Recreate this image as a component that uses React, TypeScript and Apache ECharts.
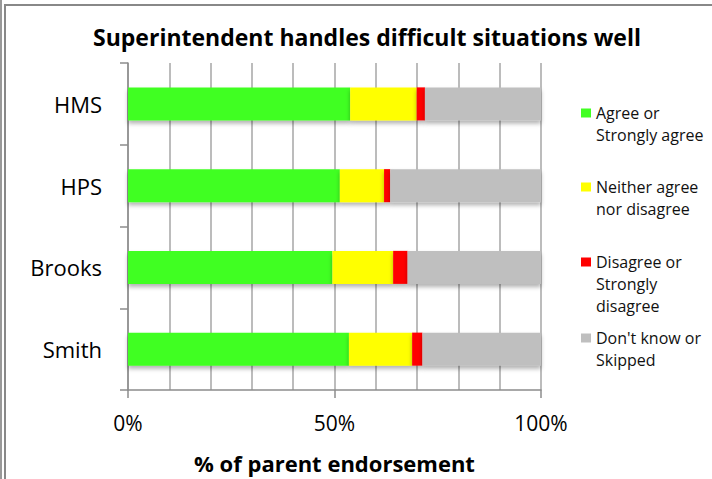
import React, { useEffect, useRef } from "react";
import * as echarts from "echarts";

const categories = ["HMS", "HPS", "Brooks", "Smith"];
const seriesNames = [
  "Agree or Strongly agree",
  "Neither agree nor disagree",
  "Disagree or Strongly disagree",
  "Don't know or Skipped",
];
const legendLines = [
  "Agree or\nStrongly agree",
  "Neither agree\nnor disagree",
  "Disagree or\nStrongly\ndisagree",
  "Don't know or\nSkipped",
];
const agree = [53.8, 51.3, 49.5, 53.5];
const neither = [16.1, 10.7, 14.7, 15.3];
const disagree = [2.0, 1.5, 3.5, 2.5];
const dontKnow = [28.1, 36.5, 32.3, 28.7];
const colors = ["#41ff22", "#ffff00", "#ff0000", "#bfbfbf"];
const xTicks = [0, 50, 100];
const legendCenters = [113, 187, 262, 338];

const FONT = "'Open Sans', sans-serif";

export default function App() {
  const ref = useRef<HTMLDivElement>(null);
  useEffect(() => {
    if (!ref.current) return;
    const chart = echarts.init(ref.current, null, { renderer: "svg" });
    const values = [agree, neither, disagree, dontKnow];
    const series = values.map((d, i) => ({
      name: seriesNames[i],
      type: "bar",
      stack: "total",
      barWidth: 33,
      data: d,
      itemStyle: {
        color: colors[i],
        shadowColor: "rgba(0,0,0,0.3)",
        shadowBlur: 4,
        shadowOffsetY: 3,
      },
    }));
    const legends = legendLines.map((txt, i) => {
      const n = txt.split("\n").length;
      const padded = "\n".repeat(n - 1) + txt;
      const half = (2 * n - 1) * 11;
      return {
        data: [seriesNames[i]],
        left: 581,
        top: legendCenters[i] - half,
        padding: 0,
        itemWidth: 10,
        itemHeight: 9,
        itemGap: 0,
        icon: "rect",
        selectedMode: false,
        formatter: () => padded,
        textStyle: {
          fontFamily: FONT,
          fontSize: 16,
          color: "#111",
          lineHeight: 22,
        },
      };
    });
    chart.setOption({
      animation: false,
      backgroundColor: "#fff",
      title: {
        text: "Superintendent handles difficult situations well",
        left: 362,
        top: 20,
        textAlign: "center",
        textStyle: { fontFamily: FONT, fontSize: 23, fontWeight: "bold", color: "#000" },
      },
      legend: legends,
      grid: { left: 128, right: 171, top: 63, bottom: 89 },
      xAxis: {
        type: "value",
        min: 0,
        max: 100,
        interval: 50,
        name: "% of parent endorsement",
        nameLocation: "middle",
        nameGap: 62,
        nameTextStyle: { fontFamily: FONT, fontSize: 22, fontWeight: "bold", color: "#000" },
        axisLine: { show: true, lineStyle: { color: "#8c8c8c", width: 1.5 } },
        axisTick: { show: true, length: 8, lineStyle: { color: "#8c8c8c", width: 1.5 } },
        axisLabel: {
          margin: 22,
          fontFamily: FONT,
          fontSize: 21,
          color: "#000",
          formatter: (v: number) => (xTicks.includes(v) ? v + "%" : ""),
        },
        splitLine: { show: true, lineStyle: { color: "#a6a6a6", width: 1.5 } },
        minorTick: { show: false, splitNumber: 5 },
        minorSplitLine: { show: true, lineStyle: { color: "#a6a6a6", width: 1.5 } },
      },
      yAxis: {
        type: "category",
        inverse: true,
        data: categories,
        axisLine: { show: true, lineStyle: { color: "#8c8c8c", width: 1.5 } },
        axisTick: { show: true, length: 8, lineStyle: { color: "#8c8c8c", width: 1.5 } },
        axisLabel: { margin: 26, fontFamily: FONT, fontSize: 22, color: "#000" },
        splitLine: { show: false },
      },
      graphic: [
        { type: "line", shape: { x1: 1, y1: 0, x2: 1, y2: 479 }, style: { stroke: "#999", lineWidth: 2 } },
        { type: "rect", shape: { x: 5, y: 5, width: 760, height: 520 }, style: { fill: "none", stroke: "#888", lineWidth: 2 } },
      ],
      series,
    });
    return () => chart.dispose();
  }, []);
  return (
    <div
      ref={ref}
      style={{ position: "fixed", left: 0, top: 0, width: 712, height: 479 }}
    />
  );
}
